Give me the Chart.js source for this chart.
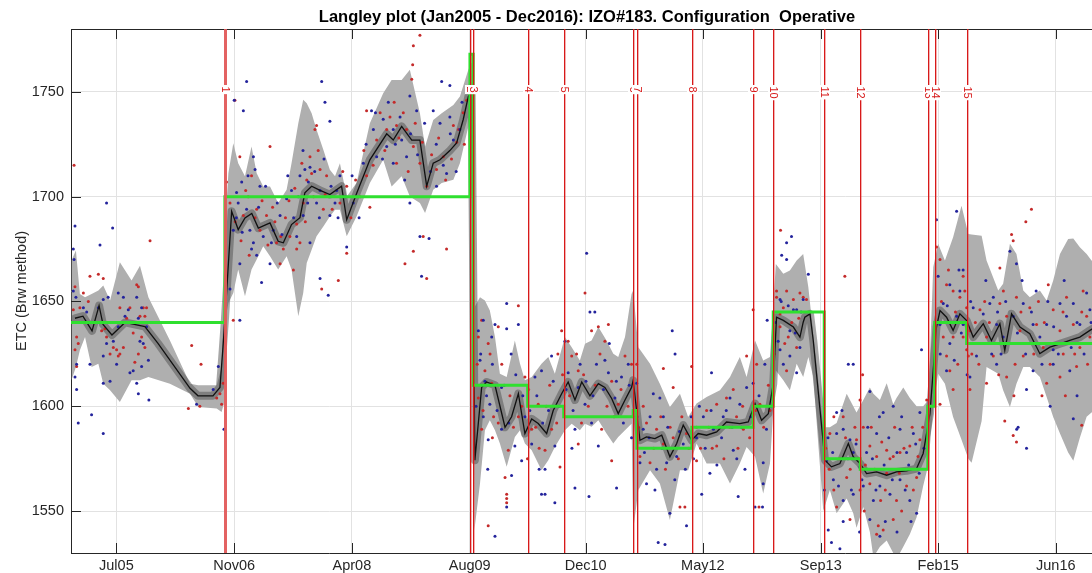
<!DOCTYPE html>
<html><head><meta charset="utf-8">
<script src="https://cdn.jsdelivr.net/npm/chart.js@4.4.1/dist/chart.umd.min.js"></script>
<style>html,body{margin:0;padding:0;overflow:hidden;background:#fff;}canvas{display:block;}</style>
</head><body>
<canvas id="c" width="1120" height="573"></canvas>
<script>
// x values: days since 2005-01-01
const tickDays = [192, 696, 1199, 1703, 2199, 2700, 3204, 3706, 4209];
const tickLabels = ['Jul05','Nov06','Apr08','Aug09','Dec10','May12','Sep13','Feb15','Jun16'];
const yTicks = [1550, 1600, 1650, 1700, 1750];

const eventDays = [656, 1704, 1718, 1951, 2105, 2402, 2418, 2653, 2915, 3001, 3219, 3373, 3662, 3692, 3828];
const eventLabels = ['1','2','3','4','5','6','7','8','9','10','11','12','13','14','15'];

const greenDays = [-2, 656, 1704, 1718, 1951, 2105, 2402, 2418, 2653, 2915, 3001, 3219, 3373, 3662, 3692, 3828, 4411];
const greenVals = [1640, 1700, 1768, 1610, 1600, 1595, 1598, 1580, 1590, 1600, 1645, 1575, 1570, 1600, 1640, 1630, 1630];

const meanDays = [15,49,88,118,135,173,229,314,370,507,541,605,635,647,
 656,671,685,713,742,771,799,849,884,906,941,977,998,1027,1063,1105,1155,1177,1220,1276,1348,1376,1412,1455,1490,1519,1547,1576,1618,1647,1675,1697,1711,
 1725,1754,1775,1811,1854,1882,1911,1939,1968,1996,2032,2060,2096,2124,2153,2182,2217,2253,2281,2310,2338,2367,2395,
 2402,2431,2459,2495,2524,2559,2588,2616,2652,2680,2716,2759,2801,2858,2894,2923,2951,2980,3001,3015,3044,3087,3115,3129,
 3136,3158,3172,3222,3250,3286,3322,3343,3372,3400,3443,3486,3528,3571,3614,3642,3671,3699,
 3714,3742,3770,3799,3828,3856,3899,3934,3970,3991,4020,4056,4098,4141,4184,4227,4269,4312,4355,4411];
const meanVals = [1642,1643,1636,1648,1639,1634,1640,1638,1630,1608.6,1605,1605,1609,1627,
 1641,1668,1693,1684.3,1689.9,1692,1685,1687.5,1678.7,1678,1686.7,1690,1701.8,1705,1703,1701,1705,1689,1701.8,1717.6,1730,1727,1733.5,1727,1727,1705,1716,1717.6,1722,1725.6,1736.7,1747.8,1750,
 1574.3,1609,1611.6,1610,1590,1595,1606,1587,1594,1591.8,1587,1598,1606,1611.6,1603,1611.6,1605,1610.8,1609,1603.7,1596.5,1603,1609,
 1612.4,1583.8,1585.4,1584.6,1586.2,1575.9,1582.2,1591,1583.8,1587,1586.2,1587.8,1592.5,1591.7,1592.5,1601.3,1593.3,1596.5,1610.8,1642.5,1641,1637.8,1633,1640.1,
 1642.5,1644.1,1631.4,1574.3,1571.1,1572.7,1582.2,1575.9,1572.7,1567.9,1568.7,1567.1,1568.7,1569.2,1570.3,1577.5,1596.5,1637.8,
 1645.7,1642.5,1636.2,1644.1,1640.9,1633,1639.4,1631.4,1639.4,1626.7,1644.1,1637.8,1634.6,1625.1,1628.2,1629.8,1631.4,1633,1636.2,1640];

const bandDays = [0,19,36,58,86,115,136,165,207,257,293,329,421,507,542,621,642,652,
 656,671,692,713,742,770,792,820,849,884,920,941,970,991,1006,1027,1048,1077,1105,1127,1148,1177,1219,1276,1333,1369,1412,1447,1490,1512,1547,1583,1633,1661,1697,1711,
 1723,1747,1768,1789,1811,1832,1861,1896,1918,1939,1968,2010,2039,2067,2110,2139,2174,2196,2224,2253,2288,2317,2338,2367,2395,
 2402,2424,2474,2516,2559,2602,2637,2673,2716,2773,2816,2858,2887,2923,2958,2987,3012,3044,3072,3101,
 3129,3151,3172,3215,3243,3272,3315,3343,3357,3386,3414,3429,3457,3486,3514,3528,3557,3585,3614,3642,3664,
 3685,3706,3735,3770,3806,3835,3849,3892,3913,3963,3984,4013,4041,4070,4098,4141,4170,4198,4227,4262,4284,4312,4341,4362,4411];
const bandUpper = [1669.5,1674.3,1653.6,1652,1653.6,1655.2,1657.6,1650.5,1668.7,1660,1667.1,1652,1631.4,1610.8,1610,1610,1618.7,1650.5,
 1684.3,1711.2,1725.5,1716,1709.7,1723.9,1711.2,1704.9,1704.9,1697,1703.3,1716,1735,1746.2,1744.6,1739.8,1731.9,1722.4,1712.8,1709.7,1716,1700.1,1706.5,1735,1749.3,1755.7,1755.7,1760.5,1739.8,1723.9,1736.6,1739.8,1743.8,1747.8,1760.5,1764,
 1647.3,1652,1650.5,1645.7,1633,1615.5,1614,1631.4,1620.3,1612.4,1614,1620.3,1623.5,1615.5,1633,1628.2,1621.9,1629.8,1631.4,1637.8,1631.4,1625.1,1623.5,1633,1653.6,
 1655.2,1628.2,1620.3,1610.8,1599.7,1606,1594.9,1601.3,1604.4,1607.6,1614,1623.5,1614,1631.4,1621.9,1623.5,1667.9,1663.2,1664.8,1669.5,
 1672.7,1656.8,1634.6,1590,1590,1592,1606,1600,1597,1603,1609,1606,1603,1611,1601,1604,1609,1604,1600,1600,1603,
 1666.3,1677.5,1669.5,1680.6,1695.7,1682.2,1682,1681.4,1669.5,1655.2,1658.4,1677.5,1672.7,1655.2,1652,1655.2,1650.5,1660,1672.7,1679.8,1680,1675.9,1672.7,1669.5,1665];
const bandLower = [1612.4,1618.7,1626.7,1633,1618.7,1620.3,1610.8,1607.6,1602,1612.4,1612.4,1614,1610.8,1606,1599.7,1598.9,1597.3,1601.3,
 1639.8,1649.3,1654.1,1665.2,1652.5,1665.2,1670,1676.3,1671.6,1665.2,1671.6,1665.2,1643,1654.1,1668.4,1674.7,1681.1,1685.8,1690.6,1693.8,1693.8,1681.1,1690.6,1706.5,1717.6,1704.9,1709.7,1700.1,1697,1692.2,1703.3,1706.5,1708.1,1716,1733.5,1748,
 1541,1563.2,1588.6,1593.3,1588.6,1582.2,1571.1,1585.4,1588.6,1582.2,1579,1569.5,1574.3,1580.6,1588.6,1591.7,1588.6,1591.7,1590.2,1593.3,1587,1582.2,1585.4,1588.6,1591.7,
 1541,1560,1569.5,1563.2,1545.7,1569.5,1569.5,1582.2,1572.7,1572.7,1563.2,1572.7,1580.6,1575.9,1558.4,1572.7,1617.1,1612.4,1607.6,1620.3,
 1614,1623.5,1614,1550,1560,1549,1556,1549,1542,1552,1540,1528,1533,1536,1530,1527,1533,1539,1547,1562,1572,
 1599.7,1615.5,1610.8,1594.9,1584,1575,1573,1593,1618.7,1615.5,1607.6,1599.7,1610.8,1618.7,1618.7,1614,1604.4,1594.9,1587,1578,1574,1585,1595,1597,1600];

const redDots = [[11,1715],[15,1657],[22,1633],[29,1630],[15,1627],[22,1619],[36,1647],[72,1650],[79,1662],[115,1663],[136,1661],[143,1637],[150,1633],[207,1647],[193,1627],[200,1624],[207,1625],[222,1628],[236,1642],[250,1647],[264,1635],[279,1658],[286,1657],[293,1643],[300,1633],[307,1647],[314,1643],[321,1647],[314,1628],[286,1625],[271,1621],[336,1679],[514,1629],[554,1620],[500,1599],[549,1600],[621,1604],[642,1601],[649,1611],[635,1606],[165,1625],[179,1628],[129,1636],[51,1654],[8,1646],
 [1490,1777],[1462,1772],[1459,1763],[699,1746],[1048,1734],[1041,1732],[849,1724],[1262,1741],[1177,1673],[1426,1668],[1519,1661],[692,1641],[1070,1656],[1141,1660],[1604,1675],[1504,1681],[1462,1674],[663,1707],[678,1697],[735,1691],[756,1700],[770,1710],[792,1694],[806,1684],[834,1691],[877,1678],[906,1675],[934,1681],[963,1675],[977,1678],[963,1687],[991,1697],[1006,1708],[1027,1711],[1020,1719],[1063,1713],[1091,1710],[1077,1694],[1148,1697],[1177,1705],[1234,1700],[1262,1710],[1305,1727],[1348,1732],[1362,1738],[1390,1734],[1419,1740],[1433,1732],[1462,1724],[1455,1756],[1490,1716],[1519,1705],[1561,1713],[1590,1719],[1633,1734],[1647,1726],[1675,1740],[1690,1746],[720,1719],[892,1668],[949,1665],[1390,1716],[1276,1695],
 [700,1688],[725,1679],[745,1703],[760,1672],[785,1690],[815,1698],[840,1677],[860,1695],[870,1688],[895,1681],[915,1690],[930,1698],[955,1704],[985,1716],[1000,1688],[1035,1700],[1055,1722],[1085,1701],[1115,1694],[1160,1712],[1195,1690],[1215,1708],[1250,1722],[1290,1715],[1320,1740],[1340,1722],[1380,1745],[1400,1728],[1440,1712],[1470,1735],[1500,1726],[1540,1720],[1570,1728],[1600,1708],[1625,1718],[1655,1732],[1680,1725],
 [2196,1654],[1861,1558],[1861,1556],[1861,1554],[1782,1543],[1854,1566],[2089,1571],[1911,1648],[1754,1641],[1740,1633],[1782,1630],[1825,1638],[1768,1617],[1797,1611],[1740,1604],[1754,1589],[1825,1592],[1868,1579],[1911,1595],[1968,1589],[1996,1601],[2025,1579],[2053,1589],[2096,1636],[2124,1631],[2139,1624],[2167,1617],[2224,1636],[2253,1638],[2281,1631],[2296,1639],[2310,1612],[2338,1601],[2367,1624],[2395,1620],[2181,1592],[2267,1589],[2310,1574],[2167,1582],[2110,1595],[1939,1614],
 [1735,1620],[1760,1598],[1790,1625],[1805,1595],[1840,1620],[1875,1605],[1890,1590],[1925,1600],[1955,1608],[1985,1590],[2000,1580],[2030,1600],[2045,1610],[2075,1592],[2100,1615],[2130,1605],[2160,1625],[2190,1615],[2210,1600],[2240,1610],[2260,1625],[2290,1600],[2320,1595],[2350,1608],[2380,1600],[1800,1585],[1950,1575],[2080,1625],
 [2915,1646],[2652,1619],[2602,1552],[2623,1552],[2940,1552],[2531,1618],[2573,1609],[2459,1592],[2502,1589],[2531,1582],[2573,1585],[2474,1573],[2431,1576],[2630,1587],[2673,1590],[2716,1598],[2759,1601],[2801,1604],[2830,1608],[2844,1595],[2873,1589],[2887,1624],[2930,1620],[2944,1601],[2987,1598],[3015,1652],[3030,1644],[3058,1655],[3087,1651],[3129,1652],[3058,1617],[2673,1574],[2759,1581],[2402,1595],[2417,1620],
 [2425,1590],[2445,1600],[2490,1580],[2520,1595],[2540,1570],[2560,1590],[2595,1575],[2610,1595],[2640,1580],[2690,1580],[2725,1590],[2740,1580],[2770,1590],[2790,1575],[2815,1590],[2850,1580],[2870,1600],[2900,1585],[2925,1598],[2960,1590],[2980,1610],[3005,1625],[3050,1630],[3080,1640],[3110,1642],
 [3032,1684],[3307,1662],[3383,1615],[3450,1543],[3443,1539],[3471,1541],[3015,1655],[3044,1647],[3115,1654],[3143,1651],[3030,1638],[3065,1633],[3101,1628],[3300,1595],[3357,1584],[3386,1590],[3414,1581],[3443,1576],[3486,1579],[3514,1576],[3543,1578],[3585,1581],[3628,1584],[3315,1566],[3372,1560],[3414,1563],[3486,1568],[3528,1555],[3571,1562],[3614,1566],[3272,1552],[3329,1546],[3514,1546],[3372,1603],[3243,1587],[3657,1603],
 [3225,1580],[3240,1570],[3260,1595],[3285,1575],[3310,1585],[3330,1570],[3350,1590],[3365,1575],[3395,1572],[3420,1590],[3435,1570],[3465,1583],[3480,1560],[3500,1575],[3520,1590],[3540,1568],[3560,1580],[3575,1570],[3595,1590],[3620,1576],[3640,1590],[3260,1560],[3390,1550],[3460,1555],[3550,1550],[3600,1560],
 [4105,1694],[4081,1688],[4020,1682],[4027,1679],[4177,1658],[3991,1593],[4027,1586],[4041,1583],[3699,1676],[3714,1670],[3742,1658],[3770,1655],[3799,1652],[3813,1662],[3828,1647],[3842,1636],[3828,1627],[3835,1624],[3813,1633],[3728,1633],[3742,1624],[3756,1617],[3770,1633],[3885,1646],[3913,1633],[3942,1624],[3970,1649],[3999,1643],[4041,1652],[4056,1636],[4070,1624],[4098,1647],[4127,1639],[4155,1628],[4198,1646],[4227,1636],[4241,1625],[4255,1652],[4284,1639],[4298,1619],[4312,1628],[4326,1655],[4341,1643],[4355,1633],[3999,1614],[3913,1611],[4170,1611],[4227,1614],[3842,1608],[3770,1608],[3970,1666],[3714,1601],[4320,1591],
 [3720,1650],[3735,1640],[3750,1665],[3780,1645],[3790,1620],[3820,1655],[3850,1625],[3865,1640],[3880,1620],[3905,1650],[3925,1640],[3950,1630],[3965,1615],[3985,1655],[4005,1630],[4035,1620],[4060,1645],[4090,1630],[4115,1625],[4135,1650],[4160,1640],[4185,1620],[4210,1630],[4240,1645],[4265,1630],[4290,1625],[4320,1645],[4345,1620],[4370,1640],[4390,1630],[4250,1605],[4150,1605],[4030,1605]];

const blueDots = [[150,1697],[176,1685],[15,1686],[122,1677],[8,1675],[11,1670],[8,1655],[19,1652],[65,1645],[51,1647],[136,1651],[157,1652],[200,1654],[222,1652],[229,1643],[243,1646],[279,1652],[286,1642],[300,1647],[293,1631],[307,1630],[321,1638],[329,1622],[300,1619],[264,1617],[250,1616],[279,1611],[286,1606],[331,1603],[165,1612],[136,1611],[86,1596],[29,1592],[136,1587],[115,1647],[179,1631],[150,1630],[136,1624],[193,1620],[79,1620],[22,1620],[15,1614],[22,1608],[200,1638],[535,1601],[606,1608],[628,1619],[652,1589],
 [749,1755],[1070,1755],[696,1746],[735,1741],[1084,1745],[1583,1755],[1618,1753],[1105,1736],[1283,1741],[1177,1676],[1497,1662],[720,1641],[1063,1661],[1098,1653],[1529,1680],[706,1702],[713,1697],[728,1707],[778,1719],[785,1713],[806,1705],[749,1694],[763,1684],[778,1678],[792,1672],[820,1681],[863,1684],[892,1691],[920,1699],[941,1703],[977,1710],[998,1713],[1020,1714],[1013,1707],[1048,1697],[1105,1691],[1063,1703],[1134,1703],[1148,1710],[1127,1697],[1205,1697],[1248,1716],[1291,1732],[1333,1737],[1376,1732],[1412,1727],[1433,1719],[1447,1748],[1476,1741],[1547,1741],[1576,1735],[1618,1738],[1633,1727],[1661,1732],[1604,1711],[1561,1705],[1447,1697],[1490,1681],[1376,1716],[1348,1724],[1305,1719],[692,1684],[678,1656],[720,1668],[849,1668],[813,1659],[991,1691],[1020,1678],[963,1681],
 [705,1690],[730,1683],[755,1710],[770,1675],[800,1695],[830,1705],[855,1678],[880,1697],[900,1682],[925,1710],[950,1690],[970,1700],[990,1722],[1010,1697],[1040,1712],[1060,1690],[1080,1718],[1110,1705],[1140,1690],[1170,1700],[1200,1710],[1230,1690],[1260,1725],[1300,1740],[1330,1718],[1355,1745],[1385,1725],[1405,1738],[1425,1708],[1450,1730],[1480,1720],[1510,1735],[1535,1712],[1560,1725],[1590,1715],[1620,1730],[1645,1712],[1670,1745],
 [2203,1673],[2217,1645],[2238,1645],[1861,1552],[1811,1538],[2010,1558],[2025,1558],[2067,1554],[2213,1557],[2331,1561],[2153,1561],[1882,1567],[1780,1570],[1740,1636],[1761,1641],[1797,1633],[1811,1639],[1861,1637],[1911,1639],[1861,1649],[1747,1622],[1768,1612],[1789,1601],[1761,1595],[1782,1584],[1839,1589],[1896,1581],[1925,1574],[1968,1582],[1982,1614],[2010,1617],[2053,1624],[2110,1631],[2124,1616],[2167,1609],[2196,1601],[2153,1589],[2224,1592],[2281,1622],[2296,1616],[2324,1604],[2352,1614],[2381,1620],[2395,1585],[2067,1581],[2025,1570],[2253,1581],[1839,1609],[1939,1595],
 [1730,1600],[1750,1625],[1775,1605],[1800,1620],[1820,1598],[1850,1610],[1870,1592],[1900,1615],[1930,1605],[1960,1598],[1990,1605],[2015,1592],[2040,1598],[2060,1612],[2085,1600],[2115,1608],[2145,1598],[2175,1620],[2200,1612],[2230,1605],[2245,1620],[2275,1608],[2300,1630],[2330,1612],[2360,1592],[2385,1610],[1880,1625],[2000,1570],[2140,1580],
 [3079,1681],[3058,1678],[3037,1672],[2569,1636],[2737,1616],[2975,1641],[2581,1625],[2509,1535],[2538,1534],[2559,1549],[2630,1543],[2695,1558],[2851,1557],[2923,1552],[2955,1552],[2958,1563],[2445,1589],[2474,1595],[2488,1606],[2516,1604],[2531,1595],[2431,1573],[2459,1563],[2502,1570],[2545,1573],[2588,1576],[2616,1582],[2673,1585],[2702,1595],[2745,1589],[2787,1595],[2816,1604],[2830,1579],[2858,1601],[2887,1609],[2915,1611],[2958,1573],[2972,1589],[3022,1631],[3044,1620],[3072,1636],[3101,1646],[3115,1628],[2417,1611],[2730,1568],
 [2420,1595],[2450,1578],[2470,1585],[2495,1560],[2525,1580],[2550,1590],[2580,1565],[2600,1588],[2625,1570],[2650,1595],[2660,1575],[2685,1600],[2710,1580],[2735,1598],[2760,1572],[2780,1585],[2800,1598],[2825,1590],[2845,1575],[2865,1590],[2880,1570],[2905,1595],[2940,1605],[2965,1620],[2990,1600],[3010,1640],[3035,1650],[3065,1648],[3095,1635],[3120,1645],
 [3058,1670],[3322,1620],[3343,1620],[3635,1627],[3414,1607],[3250,1535],[3236,1541],[3286,1532],[3030,1651],[3087,1646],[3129,1651],[3151,1663],[3030,1627],[3072,1624],[3101,1616],[3272,1587],[3300,1589],[3329,1584],[3343,1578],[3372,1571],[3400,1578],[3443,1587],[3471,1597],[3514,1600],[3543,1589],[3571,1578],[3600,1587],[3628,1597],[3258,1565],[3300,1555],[3343,1558],[3386,1562],[3429,1555],[3457,1562],[3500,1558],[3543,1565],[3585,1555],[3614,1549],[3414,1546],[3457,1538],[3229,1574],[3272,1597],
 [3220,1560],[3235,1585],[3255,1578],[3280,1562],[3295,1598],[3320,1575],[3335,1560],[3355,1582],[3380,1565],[3405,1590],[3425,1575],[3440,1560],[3455,1595],[3475,1572],[3495,1585],[3510,1565],[3530,1578],[3550,1595],[3565,1560],[3580,1572],[3590,1545],[3610,1582],[3625,1568],[3645,1580],[3300,1545],[3370,1540],[3480,1545],[3530,1540],
 [3785,1693],[3699,1689],[4084,1580],[4048,1590],[4284,1594],[4013,1674],[4041,1668],[3706,1662],[3756,1658],[3799,1655],[3728,1649],[3785,1643],[3714,1639],[3756,1630],[3813,1639],[3856,1647],[3899,1644],[3927,1649],[3956,1639],[3984,1633],[3942,1652],[4027,1643],[4070,1649],[4112,1639],[4141,1633],[4170,1639],[4198,1627],[4227,1649],[4255,1643],[4284,1649],[4312,1639],[4341,1654],[4355,1646],[3870,1624],[3956,1620],[4112,1617],[4198,1620],[4269,1617],[3742,1617],[3842,1614],[4084,1608],[3813,1665],[4042,1589],
 [3715,1625],[3745,1648],[3760,1640],[3775,1622],[3795,1665],[3805,1635],[3830,1615],[3845,1650],[3860,1630],[3890,1630],[3910,1660],[3935,1625],[3960,1645],[3975,1625],[3995,1650],[4015,1630],[4045,1635],[4065,1660],[4080,1625],[4105,1645],[4125,1655],[4150,1620],[4175,1650],[4200,1638],[4220,1625],[4245,1660],[4275,1628],[4300,1640],[4330,1625],[4360,1640],[4380,1655],[4400,1635],[4185,1600],[4300,1605]];

const FONT = "'Liberation Sans', Arial, Helvetica, sans-serif";
const toXY = (xs, ys) => xs.map((x, i) => ({x: x, y: ys[i]}));
const pairs = arr => arr.map(p => ({x: p[0], y: p[1]}));

const overlay = {
  id: 'overlay',
  afterDatasetsDraw(chart) {
    const {ctx, chartArea: a, scales: {x, y}} = chart;
    ctx.save();
    ctx.fillStyle = '#262626';
    ctx.fillRect(a.left, Math.round(a.top), a.right - a.left, 1);
    tickDays.forEach(d => {
      const px = Math.round(x.getPixelForValue(d));
      ctx.fillRect(px, a.bottom - 10, 1, 10);
      ctx.fillRect(px, a.top, 1, 10);
    });
    yTicks.forEach(v => {
      const py = Math.round(y.getPixelForValue(v));
      ctx.fillRect(a.left, py, 10, 1);
    });
    const h = a.bottom - a.top;
    eventDays.forEach((d, i) => {
      const px = Math.round(x.getPixelForValue(d));
      if (i === 0) {
        ctx.fillStyle = 'rgba(225,90,90,0.95)';
        ctx.fillRect(px - 1, a.top, 3, h);
      } else {
        ctx.fillStyle = 'rgba(225,60,60,0.4)';
        ctx.fillRect(px + 1, a.top, 1, h);
        ctx.fillStyle = 'rgb(215,25,25)';
        ctx.fillRect(px, a.top, 1, h);
      }
    });
    ctx.font = '11px ' + FONT;
    ctx.textAlign = 'left'; ctx.textBaseline = 'middle';
    eventDays.forEach((d, i) => {
      const px = Math.round(x.getPixelForValue(d)) + 0.5;
      const txt = eventLabels[i];
      const w = ctx.measureText(txt).width;
      const top = 86;
      ctx.fillStyle = '#ffffff';
      ctx.fillRect(px - 5.5, top - 1, 11, w + 3);
      ctx.save();
      ctx.translate(px, top + 0.5);
      ctx.rotate(Math.PI / 2);
      ctx.fillStyle = 'rgb(215,25,25)';
      ctx.fillText(txt, 0, 0);
      ctx.restore();
    });
    ctx.restore();
  }
};

new Chart(document.getElementById('c'), {
  type: 'line',
  data: {
    datasets: [
      {label: 'Upper', data: toXY(bandDays, bandUpper), fill: '+1', backgroundColor: '#afafaf', borderColor: 'transparent', borderWidth: 0, pointRadius: 0, order: 20},
      {label: 'Lower', data: toXY(bandDays, bandLower), fill: false, borderColor: 'transparent', borderWidth: 0, pointRadius: 0, order: 21},
      {label: 'Inner', data: toXY(meanDays, meanVals), fill: false, borderColor: 'rgba(80,80,80,0.5)', borderWidth: 8, borderJoinStyle: 'round', borderCapStyle: 'round', pointRadius: 0, order: 15},
      {label: 'Red', data: pairs(redDots), showLine: false, pointRadius: 1.5, pointBackgroundColor: '#c42a2a', pointBorderWidth: 0, order: 12},
      {label: 'Blue', data: pairs(blueDots), showLine: false, pointRadius: 1.5, pointBackgroundColor: '#23239c', pointBorderWidth: 0, order: 11},
      {label: 'Mean', data: toXY(meanDays, meanVals), fill: false, borderColor: '#111111', borderWidth: 1.3, pointRadius: 0, order: 5},
      {label: 'Configuration', data: toXY(greenDays, greenVals), stepped: 'before', fill: false, borderColor: '#2fe02f', borderWidth: 3, pointRadius: 0, order: 1}
    ]
  },
  options: {
    responsive: false, animation: false, devicePixelRatio: 1,
    layout: {padding: {left: 0, right: 17, top: 0, bottom: 0}},
    plugins: {
      legend: {display: false},
      tooltip: {enabled: false},
      title: {display: true, text: 'Langley plot (Jan2005 - Dec2016): IZO#183. Configuration  Operative', fullSize: false, color: '#000000',
        font: {family: FONT, size: 16.5, weight: 'bold', lineHeight: 1.2}, padding: {top: 8, bottom: 1.2}}
    },
    scales: {
      x: {type: 'linear', min: -2, max: 4411,
        afterBuildTicks: s => { s.ticks = tickDays.map(v => ({value: v})); },
        afterFit: s => { s.height = 20; },
        ticks: {callback: (v, i) => tickLabels[i], autoSkip: false, maxRotation: 0, padding: 4, color: '#262626', font: {family: FONT, size: 14.5}},
        grid: {color: '#e2e2e2', drawTicks: false},
        border: {display: true, color: '#262626', width: 1}},
      y: {type: 'linear', min: 1530, max: 1780,
        afterBuildTicks: s => { s.ticks = yTicks.map(v => ({value: v})); },
        afterFit: s => { s.width = 71; },
        ticks: {padding: 7, color: '#262626', font: {family: FONT, size: 14.5}, callback: v => String(v)},
        title: {display: true, text: 'ETC (Brw method)', color: '#262626', font: {family: FONT, size: 14.5}, padding: {top: 13, bottom: 0}},
        grid: {color: '#e2e2e2', drawTicks: false},
        border: {display: true, color: '#262626', width: 1}}
    }
  },
  plugins: [overlay]
});
</script>
</body></html>
